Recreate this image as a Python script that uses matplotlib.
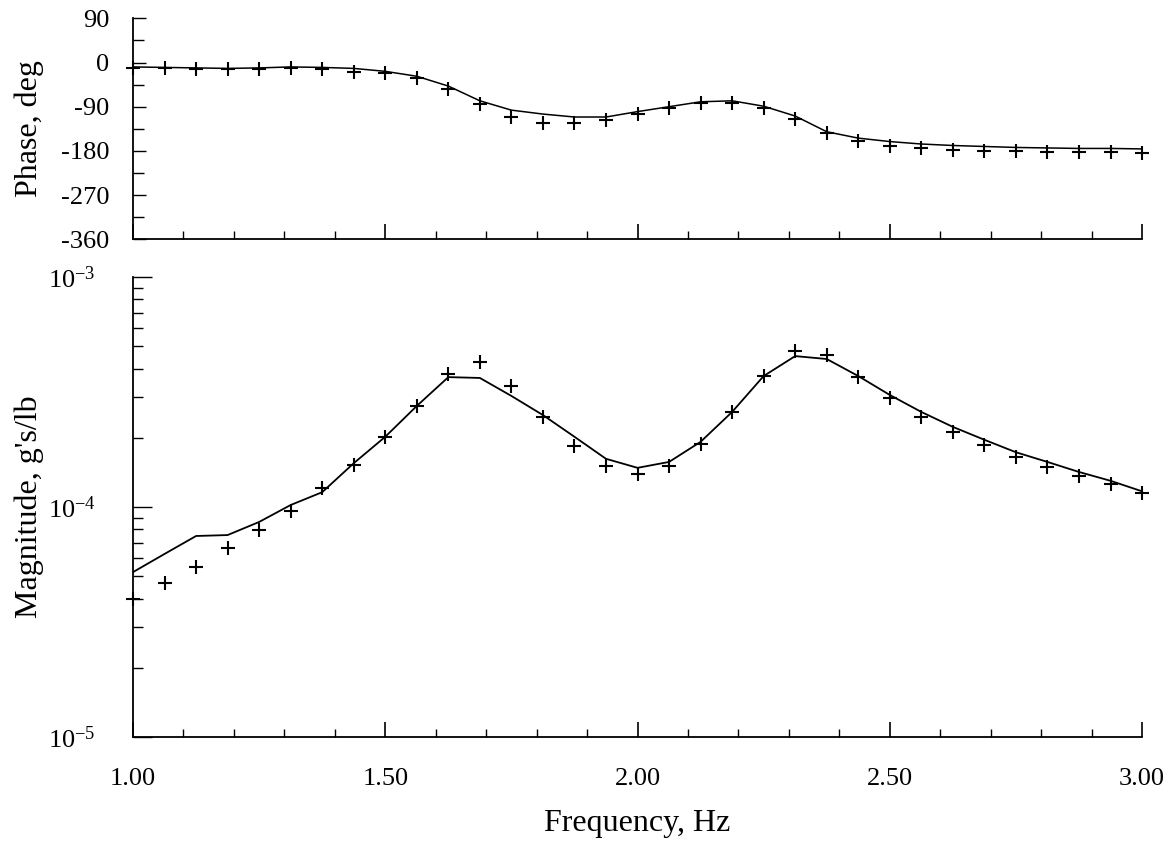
import matplotlib
matplotlib.use("Agg")
import matplotlib.pyplot as plt
from matplotlib.ticker import MultipleLocator, LogLocator, NullFormatter, FixedLocator, FixedFormatter

plt.rcParams["font.family"] = ["Liberation Serif", "DejaVu Serif"]
plt.rcParams["mathtext.fontset"] = "custom"
plt.rcParams["mathtext.rm"] = "Liberation Serif"
plt.rcParams["axes.unicode_minus"] = False

# frequency points, Hz (step 1/16)
freq = [1.0 + i * 0.0625 for i in range(33)]

# phase, deg
phase_meas = [-11, -11, -13, -13, -13, -11, -13, -19, -21,
              -32, -54, -84, -111, -123, -123, -117, -105, -93, -83, -82, -93, -115,
              -143, -160, -170, -174, -178, -180, -180, -182, -182, -183, -184]
phase_fit = [-9, -10, -11, -12, -11, -9, -10, -12, -18,
             -28, -48, -78, -97, -105, -111, -111, -100, -90, -80, -78, -89, -109,
             -141, -154, -161, -166, -169, -171, -173, -174, -175, -175, -176]

# magnitude, g's/lb
mag_meas = [3.98e-5, 4.67e-5, 5.48e-5, 6.63e-5, 7.94e-5, 9.6e-5, 1.21e-4, 1.52e-4, 2.02e-4,
            2.75e-4, 3.79e-4, 4.27e-4, 3.36e-4, 2.46e-4, 1.84e-4, 1.51e-4, 1.39e-4, 1.51e-4,
            1.88e-4, 2.59e-4, 3.71e-4, 4.77e-4, 4.58e-4, 3.67e-4, 2.98e-4, 2.46e-4, 2.12e-4,
            1.86e-4, 1.65e-4, 1.49e-4, 1.36e-4, 1.26e-4, 1.15e-4]
mag_fit = [5.21e-5, 6.25e-5, 7.48e-5, 7.55e-5, 8.61e-5, 1.02e-4, 1.16e-4, 1.55e-4, 2.02e-4,
           2.75e-4, 3.67e-4, 3.64e-4, 3.04e-4, 2.51e-4, 2.02e-4, 1.62e-4, 1.48e-4, 1.57e-4,
           1.92e-4, 2.59e-4, 3.71e-4, 4.53e-4, 4.40e-4, 3.71e-4, 3.07e-4, 2.59e-4, 2.23e-4,
           1.96e-4, 1.73e-4, 1.57e-4, 1.42e-4, 1.30e-4, 1.17e-4]

phase_ticks = [-360, -270, -180, -90, 0, 90]
mag_ticks = [1e-5, 1e-4, 1e-3]
mag_labels = [r"$\mathregular{10^{-5}}$", r"$\mathregular{10^{-4}}$", r"$\mathregular{10^{-3}}$"]

fig = plt.figure(figsize=(11.73, 8.44), dpi=100)
ax1 = fig.add_axes([0.1134, 0.7165, 0.8602, 0.2618])
ax2 = fig.add_axes([0.1134, 0.1268, 0.8602, 0.5450])

for ax in (ax1, ax2):
    ax.spines["right"].set_visible(False)
    ax.spines["top"].set_visible(False)
    ax.spines["left"].set_linewidth(1.3)
    ax.spines["bottom"].set_linewidth(1.3)
    ax.set_xlim(1.0, 3.0)
    ax.xaxis.set_major_locator(MultipleLocator(0.5))
    ax.xaxis.set_minor_locator(MultipleLocator(0.1))
    ax.tick_params(axis="x", which="major", direction="in", length=11, width=1.2)
    ax.tick_params(axis="x", which="minor", direction="in", length=6, width=1.0)
    ax.tick_params(labelsize=19)

# phase panel
ax1.plot(freq, phase_fit, color="black", linewidth=1.1)
ax1.plot(freq, phase_meas, linestyle="none", marker="+", markersize=10,
         markeredgewidth=1.5, color="black", clip_on=False)
ax1.set_ylim(-360, 90)
ax1.yaxis.set_major_locator(FixedLocator(phase_ticks))
ax1.yaxis.set_minor_locator(MultipleLocator(45))
ax1.tick_params(axis="y", which="major", direction="in", length=9, width=1.0, pad=17)
ax1.tick_params(axis="y", which="minor", direction="in", length=8, width=1.0)
ax1.tick_params(axis="x", labelbottom=False)
ax1.set_ylabel("Phase, deg", fontsize=23)
ax1.yaxis.set_label_coords(-0.088, 0.5)

# magnitude panel
ax2.plot(freq, mag_fit, color="black", linewidth=1.3)
ax2.plot(freq, mag_meas, linestyle="none", marker="+", markersize=10,
         markeredgewidth=1.5, color="black", clip_on=False)
ax2.set_yscale("log")
ax2.set_ylim(1e-5, 1e-3)
ax2.yaxis.set_major_locator(FixedLocator(mag_ticks))
ax2.yaxis.set_major_formatter(FixedFormatter(mag_labels))
ax2.yaxis.set_minor_locator(LogLocator(base=10, subs=range(2, 10)))
ax2.yaxis.set_minor_formatter(NullFormatter())
ax2.tick_params(axis="y", which="major", direction="in", length=14, width=1.0, pad=27)
ax2.tick_params(axis="y", which="minor", direction="in", length=7, width=1.0)
ax2.tick_params(axis="x", which="major", pad=22)
ax2.xaxis.set_major_formatter(plt.FormatStrFormatter("%.2f"))
ax2.set_ylabel("Magnitude, g's/lb", fontsize=23)
ax2.yaxis.set_label_coords(-0.088, 0.5)
ax2.set_xlabel("Frequency, Hz", fontsize=23, labelpad=14)

fig.savefig("out.png", dpi=100)
